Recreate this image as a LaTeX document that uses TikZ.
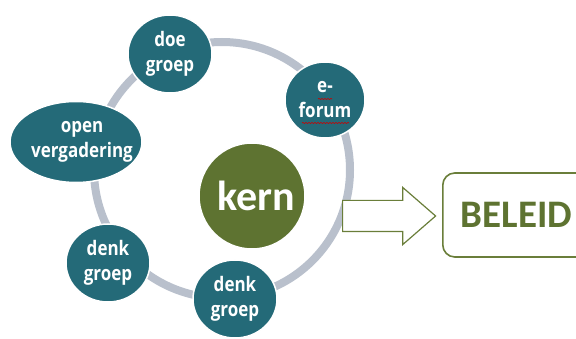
\documentclass[tikz,border=0pt]{standalone}
\usepackage{fontspec}
\setmainfont{Open Sans}
\newfontfamily\groepfont[FakeStretch=0.85]{Open Sans}
\newfontfamily\calfont{Carlito}
\usetikzlibrary{shapes.geometric,shapes.arrows,decorations.pathmorphing}
\definecolor{groepblue}{HTML}{246A78}
\definecolor{kerngreen}{HTML}{5E7331}
\definecolor{ringgray}{HTML}{B9C0CC}
\definecolor{lijngreen}{HTML}{6A7E3A}
\tikzset{
	groep/.style={ellipse,fill=groepblue,draw=white,line width=1.5pt,text=white,align=center,
		inner sep=0pt,minimum width=84pt,minimum height=78pt,
		font=\groepfont\fontsize{20}{25}\selectfont\bfseries},
	groeptekst/.style={text=white,align=center,inner sep=0pt,
		font=\groepfont\fontsize{20}{25}\selectfont\bfseries},
	kern/.style={circle,fill=kerngreen,draw=white,line width=1.5pt,text=white,minimum size=106pt,
		inner sep=0pt,font=\calfont\fontsize{42}{42}\selectfont\bfseries},
	pijl/.style={single arrow,draw=lijngreen,fill=white,line width=1.2pt,minimum height=93pt,
		inner xsep=0pt,inner ysep=15pt,single arrow head extend=13pt,single arrow tip angle=82},
	beleid/.style={draw=lijngreen,line width=1.6pt,rounded corners=12pt,fill=white,text=kerngreen,
		anchor=west,text width=124pt,align=left,inner xsep=18pt,minimum height=84pt,
		font=\calfont\fontsize{39}{39}\selectfont\bfseries},
	kronkel/.style={red!80!black,line width=0.6pt,decorate,decoration={snake,amplitude=0.6pt,segment length=3pt}}
}
\begin{document}
\begin{tikzpicture}[x=1pt,y=-1pt,every path/.style={>=latex}]
	\useasboundingbox (0,0) rectangle (576,339);
	
	% draw ring behind the groups
	\draw[ringgray,line width=8pt] (222,170) circle[radius=128pt];
	
	% draw groups on the ring
	\node[groep] (doe) at (170,54) {doe\\groep};
	\node[groep,minimum width=80pt,minimum height=76pt] (eforum) at (325,100) {e-\\forum};
	\node[groep,minimum width=132pt,minimum height=81pt,
		label={[groeptekst,xshift=6pt]center:open\\vergadering}] (open) at (76,142) {};
	\node[groep] (denkl) at (108,263) {denk\\groep};
	\node[groep] (denkr) at (235,299) {denk\\groep};
	
	% spelling marks under e-forum
	\draw[kronkel] ([shift={(-7,-1)}]eforum.center) -- ([shift={(7,-1)}]eforum.center);
	\draw[kronkel] ([shift={(-23,23)}]eforum.center) -- ([shift={(24,23)}]eforum.center);
	
	% draw kern
	\node[kern] (kern) at (252,196) {\hspace*{8pt}kern};
	
	% draw arrow and beleid box
	\node[pijl,anchor=tail] (pijl) at (342,216) {};
	\node[beleid] (beleid) at (442,215) {BELEID};
\end{tikzpicture}
\end{document}
